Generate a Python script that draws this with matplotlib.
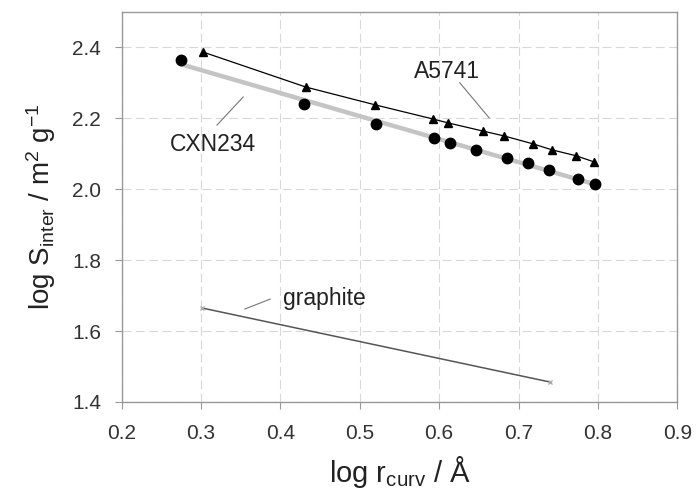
import numpy as np
import matplotlib
matplotlib.use('Agg')
import matplotlib.pyplot as plt

plt.rcParams['font.family'] = ['Liberation Sans', 'DejaVu Sans']
plt.rcParams['mathtext.default'] = 'regular'

# A5741 (triangulos)
a5741_x = [0.302, 0.432, 0.519, 0.592, 0.611, 0.655, 0.682, 0.718, 0.742, 0.773, 0.795]
a5741_y = [2.387, 2.288, 2.238, 2.198, 2.187, 2.164, 2.150, 2.128, 2.111, 2.094, 2.077]

# CXN234 (circulos)
cxn_x = [0.274, 0.430, 0.521, 0.593, 0.614, 0.646, 0.685, 0.712, 0.738, 0.775, 0.796]
cxn_y = [2.365, 2.240, 2.184, 2.144, 2.130, 2.111, 2.088, 2.073, 2.054, 2.029, 2.015]

# grafito (recta)
graf_x = [0.301, 0.740]
graf_y = [1.665, 1.456]

x_ticks = [0.2, 0.3, 0.4, 0.5, 0.6, 0.7, 0.8, 0.9]
y_ticks = [1.4, 1.6, 1.8, 2.0, 2.2, 2.4]

fig = plt.figure(figsize=(6.96, 4.95), dpi=100)
ax = fig.add_axes([0.175, 0.188, 0.798, 0.788])

ax.grid(True, color='#d8d8d8', linestyle=(0, (8, 4)), linewidth=0.8)
ax.set_axisbelow(True)

# recta de ajuste gris para CXN234
p = np.polyfit(cxn_x, cxn_y, 1)
xs = np.array([cxn_x[0], cxn_x[-1]])
ax.plot(xs, np.polyval(p, xs), color='#c4c4c4', linewidth=3.2, zorder=2, solid_capstyle='butt')
ax.plot(cxn_x, cxn_y, 'o', color='black', markersize=7.5, zorder=4)

ax.plot(a5741_x, a5741_y, '-', color='black', linewidth=0.9, zorder=3)
ax.plot(a5741_x, a5741_y, '^', color='black', markersize=5.5, zorder=4)

ax.plot(graf_x, graf_y, '-', color='#555555', linewidth=1.1, zorder=3)
ax.plot(graf_x, graf_y, 'x', color='#aaaaaa', markersize=3, zorder=3)

# etiquetas con lineas guia
ax.plot([0.320, 0.353], [2.181, 2.260], color='#777777', linewidth=0.8)
ax.text(0.315, 2.125, 'CXN234', fontsize=16.5, ha='center', va='center', color='#222222')
ax.plot([0.626, 0.663], [2.300, 2.201], color='#777777', linewidth=0.8)
ax.text(0.610, 2.333, 'A5741', fontsize=16.5, ha='center', va='center', color='#222222')
ax.plot([0.355, 0.387], [1.662, 1.690], color='#777777', linewidth=0.8)
ax.text(0.455, 1.693, 'graphite', fontsize=16.5, ha='center', va='center', color='#222222')

ax.set_xlim(0.2, 0.9)
ax.set_ylim(1.4, 2.5)
ax.set_xticks(x_ticks)
ax.set_yticks(y_ticks)
ax.set_xticklabels([f'{v:.1f}' for v in x_ticks])
ax.set_yticklabels([f'{v:.1f}' for v in y_ticks])
ax.tick_params(labelsize=15, colors='#333333', length=5, width=0.8, direction='out')
ax.tick_params(axis='x', color='#999999', pad=11)
ax.tick_params(axis='y', color='#999999', pad=10)
for s in ax.spines.values():
    s.set_color('#999999')
    s.set_linewidth(1.0)

ax.set_xlabel('log r$_{curv}$ / Å', fontsize=21, color='#222222', labelpad=8)
ax.set_ylabel('log S$_{inter}$ / m$^2$ g$^{-1}$', fontsize=20, color='#222222', labelpad=10)

fig.savefig('out.png', dpi=100)
